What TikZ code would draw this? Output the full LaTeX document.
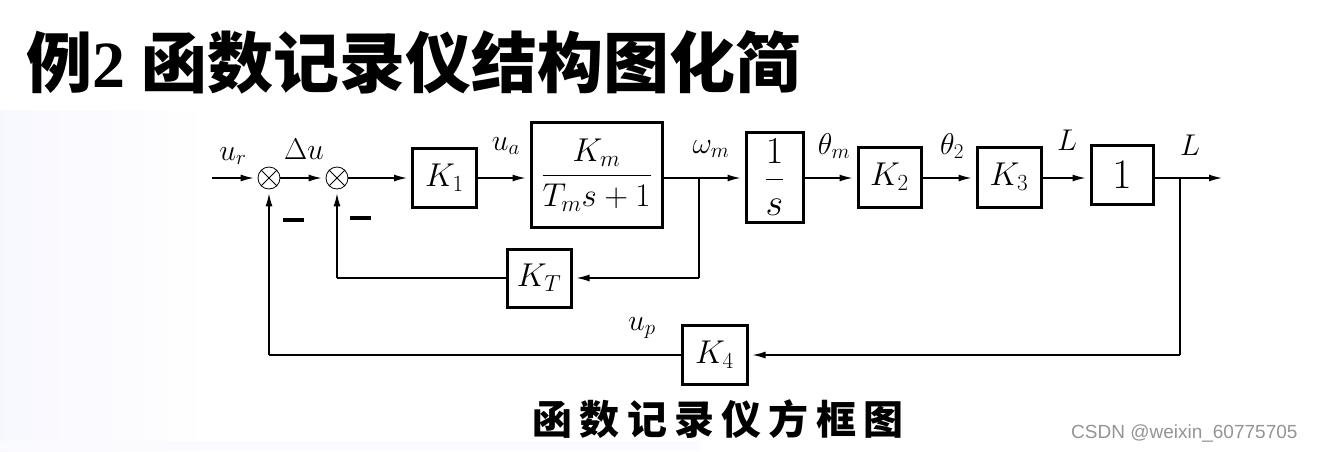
\RequirePackage{fix-cm}
\documentclass[tikz,border=0pt]{standalone}
\usepackage{fontspec}
\newfontfamily\cjk{Noto Sans CJK SC}
\newfontfamily\cjkcap{Noto Sans CJK SC}[LetterSpace=18]
\newfontfamily\timesf{Liberation Serif}
\newfontfamily\wmfont{Liberation Sans}
\usetikzlibrary{arrows.meta}
\begin{document}
\begin{tikzpicture}[x=1pt,y=-1pt,
  blk/.style={draw,line width=3pt,inner sep=0pt,font=\fontsize{33}{38}\selectfont},
  sumj/.style={draw,circle,line width=0.8pt,minimum size=22pt,inner sep=0pt,
    path picture={\draw[line width=0.8pt] (path picture bounding box.north west) -- (path picture bounding box.south east)
      (path picture bounding box.north east) -- (path picture bounding box.south west);}},
  conn/.style={line width=1.3pt},
  arr/.style={conn,-{Latex[length=13pt,width=7pt]},shorten >=4pt},
  lbl/.style={font=\fontsize{30}{34}\selectfont,inner sep=0pt},
  minusbar/.style={inner sep=0pt}]
\useasboundingbox (0,0) rectangle (1318,451);
% faint background tint
\shade[left color=blue!3,right color=white] (0,110) rectangle (210,451);
\fill[blue!2] (0,441) rectangle (700,451);

% title
\node[anchor=west,inner sep=0pt] (title) at (26,62) {\fontsize{66}{72}\selectfont\cjk\bfseries 例\timesf\bfseries 2\ \cjk\bfseries 函数记录仪结构图化简};

% blocks
\node[sumj] (s1) at (269,178) {};
\node[sumj] (s2) at (337,178) {};
\node[blk,minimum width=64pt,minimum height=59pt] (K1) at (444.5,177.5) {$K_1$};
\node[blk,minimum width=131pt,minimum height=105pt] (Km) at (596.5,175) {$\displaystyle\frac{K_m}{T_m s+1}$};
\node[blk,minimum width=57pt,minimum height=90pt,font=\fontsize{38}{44}\selectfont] (Is) at (774.5,177) {$\displaystyle\frac{1}{s}$};
\node[blk,minimum width=63pt,minimum height=60pt] (K2) at (889.5,177) {$K_2$};
\node[blk,minimum width=64pt,minimum height=60pt] (K3) at (1009,177) {$K_3$};
\node[blk,minimum width=62pt,minimum height=59pt,font=\fontsize{42}{46}\selectfont] (One) at (1122,175) {$1$};
\node[blk,minimum width=64pt,minimum height=58pt] (KT) at (539,278) {$K_T$};
\node[blk,minimum width=65pt,minimum height=59pt] (K4) at (714.5,355) {$K_4$};

% coordinates
\coordinate (in) at (212,178);
\coordinate (b1) at (699,178);
\coordinate (b1d) at (699,278);
\coordinate (b2) at (1180,178);
\coordinate (b2d) at (1180,355);
\coordinate (out) at (1226,178);
\coordinate (f2) at (337,278);
\coordinate (f1) at (269,355);

% forward path
\draw[arr] (in) -- (s1);
\draw[arr] (s1) -- (s2);
\draw[arr] (s2) -- (K1.west |- s2);
\draw[arr] (K1.east |- s2) -- (Km.west |- s2);
\draw[conn] (Km.east |- s2) -- (b1);
\draw[arr] (b1) -- (Is.west |- b1);
\draw[arr] (Is.east |- b1) -- (K2.west |- b1);
\draw[arr] (K2.east |- b1) -- (K3.west |- b1);
\draw[arr] (K3.east |- b1) -- (One.west |- b1);
\draw[conn] (One.east |- b1) -- (b2);
\draw[arr] (b2) -- (out);

% inner feedback
\draw[conn] (b1) -- (b1d);
\draw[arr] (b1d) -- (KT.east);
\draw[conn] (KT.west) -- (f2);
\draw[arr] (f2) -- (s2.south);

% outer feedback
\draw[conn] (b2) -- (b2d);
\draw[arr] (b2d) -- (K4.east);
\draw[conn] (K4.west) -- (f1);
\draw[arr] (f1) -- (s1.south);

% signal labels
\node[lbl] (lur) at (233,156) {$u_r$};
\node[lbl] (ldu) at (304,149) {$\Delta u$};
\node[lbl] (lua) at (506,146) {$u_a$};
\node[lbl] (lwm) at (711,149) {$\omega_m$};
\node[lbl] (lthm) at (834,146) {$\theta_m$};
\node[lbl] (lth2) at (952,146) {$\theta_2$};
\node[lbl] (lL1) at (1067,140) {$L$};
\node[lbl] (lL2) at (1190,145) {$L$};
\node[lbl] (lup) at (642,328) {$u_p$};
\node[minusbar] (m1) at (293,220) {\rule{21pt}{3.6pt}};
\node[minusbar] (m2) at (360.5,218) {\rule{21pt}{3.6pt}};

% caption
\node[inner sep=0pt] (cap) at (718,419) {\fontsize{40}{44}\selectfont\cjkcap\bfseries 函数记录仪方框图};

% watermark
\node[anchor=west,inner sep=0pt,text=black!42] (wm) at (1071,433) {\fontsize{19}{22}\selectfont\wmfont CSDN @weixin\_60775705};
\end{tikzpicture}
\end{document}
